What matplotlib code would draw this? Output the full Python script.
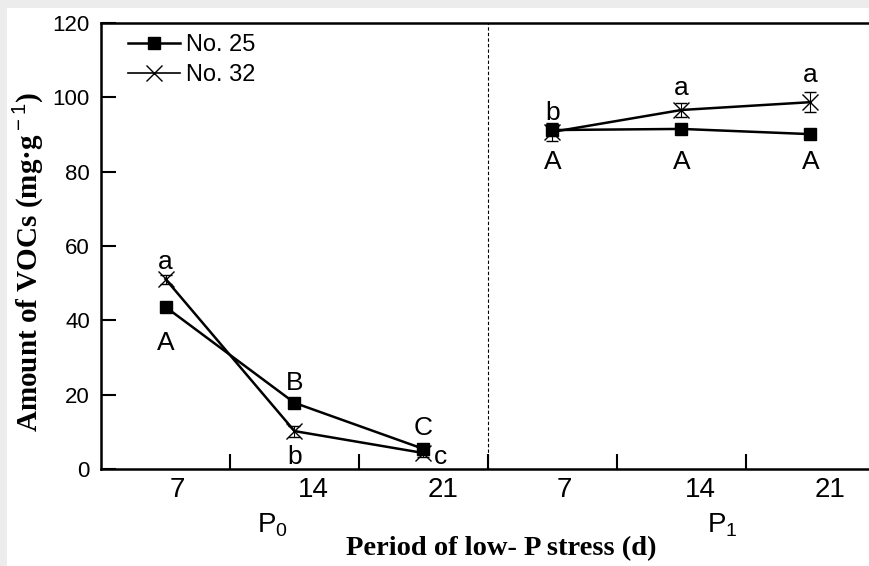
import matplotlib.pyplot as plt
from matplotlib.patches import Rectangle
from matplotlib.lines import Line2D
import numpy as np

# days of low-P stress, two P levels
days = ["7", "14", "21", "7", "14", "21"]
no25 = [43.6, 17.8, 5.4, 91.2, 91.5, 90.1]
no25_err = [0.8, 0.8, 0.6, 1.5, 0.8, 0.8]
no32 = [51.1, 10.2, 4.3, 90.7, 96.6, 98.7]
no32_err = [1.2, 1.5, 1.0, 2.5, 1.9, 2.7]

# significance letters: (group index, y value, text)
letters = [(0, 55.7, "a"), (0, 33.9, "A"), (1, 23.1, "B"), (1, 3.2, "b"),
           (2, 11.0, "C"), (2.13, 3.2, "c"),
           (3, 95.8, "b"), (3, 82.6, "A"), (4, 102.5, "a"), (4, 82.6, "A"),
           (5, 106.0, "a"), (5, 82.6, "A")]

plt.rcParams['font.family'] = ['Liberation Sans', 'DejaVu Sans']
plt.rcParams['mathtext.fontset'] = 'custom'
plt.rcParams['mathtext.rm'] = 'Liberation Sans'
plt.rcParams['mathtext.bf'] = 'Liberation Serif:bold'

fig = plt.figure(figsize=(8.69, 5.66), dpi=100)
fig.patch.set_facecolor('#ececec')
fig.add_artist(Rectangle((7 / 869, 0), 1, 1 - 8 / 566, transform=fig.transFigure,
                         facecolor='white', edgecolor='none', zorder=-10))
ax = fig.add_axes([101 / 869, 97 / 566, 774 / 869, 446 / 566])
ax.set_facecolor('none')

x = np.arange(len(days)) + 0.5
lw = 1.8
for seg in (slice(0, 3), slice(3, 6)):
    ax.errorbar(x[seg], no25[seg], yerr=no25_err[seg], color='black', lw=lw,
                marker='s', ms=9, capsize=4, elinewidth=0.8, capthick=0.8, zorder=3)
    ax.errorbar(x[seg], no32[seg], yerr=no32_err[seg], color='black', lw=lw,
                marker='x', ms=11, mew=1.0, capsize=4, elinewidth=0.8, capthick=0.8, zorder=3)

for xi, yv, t in letters:
    ax.text(xi + 0.5, yv, t, ha='center', va='center', fontsize=19)

ax.axvline(3, color='black', lw=0.8, ls=(0, (3, 2)))

ax.set_xlim(0, 6)
ax.set_ylim(0, 120)
ax.set_yticks(np.arange(0, 121, 20))
ax.set_xticks([1, 2, 3, 4, 5])
ax.set_xticklabels([])
ax.set_xticks(x + 0.03, minor=True)
ax.set_xticklabels(days, minor=True, ha='left')
ax.tick_params(axis='x', which='minor', length=0, pad=6, labelsize=20)
ax.tick_params(axis='both', which='major', direction='in', length=11, width=1.5, labelsize=16)
ax.tick_params(axis='y', pad=8)
for s in ax.spines.values():
    s.set_linewidth(1.8)

fig.text(272 / 869, 1 - 525 / 566, "P$_{\\rm 0}$", ha='center', va='center', fontsize=20)
fig.text(722 / 869, 1 - 525 / 566, "P$_{\\rm 1}$", ha='center', va='center', fontsize=20)
fig.text(501 / 869, 1 - 549 / 566, "Period of low- P stress (d)", ha='center', va='center',
         fontsize=20.5, fontweight='bold', family=['Liberation Serif'])
fig.text(28 / 869, 1 - 262 / 566, "Amount of VOCs (mg\u00b7g$^{\\rm -1}$)", rotation=90,
         ha='center', va='center', fontsize=21, fontweight='bold', family=['Liberation Serif'])

h1 = Line2D([], [], color='black', lw=lw, marker='s', ms=9)
h2 = Line2D([], [], color='black', lw=1.2, marker='x', ms=11, mew=1.0)
ax.legend([h1, h2], ["No. 25", "No. 32"], loc='upper left', frameon=False, fontsize=17,
          handlelength=2.2, handletextpad=0.25, labelspacing=0.33,
          bbox_to_anchor=(0.0077, 1.023))

fig.savefig("out.png", dpi=100, facecolor=fig.get_facecolor())
